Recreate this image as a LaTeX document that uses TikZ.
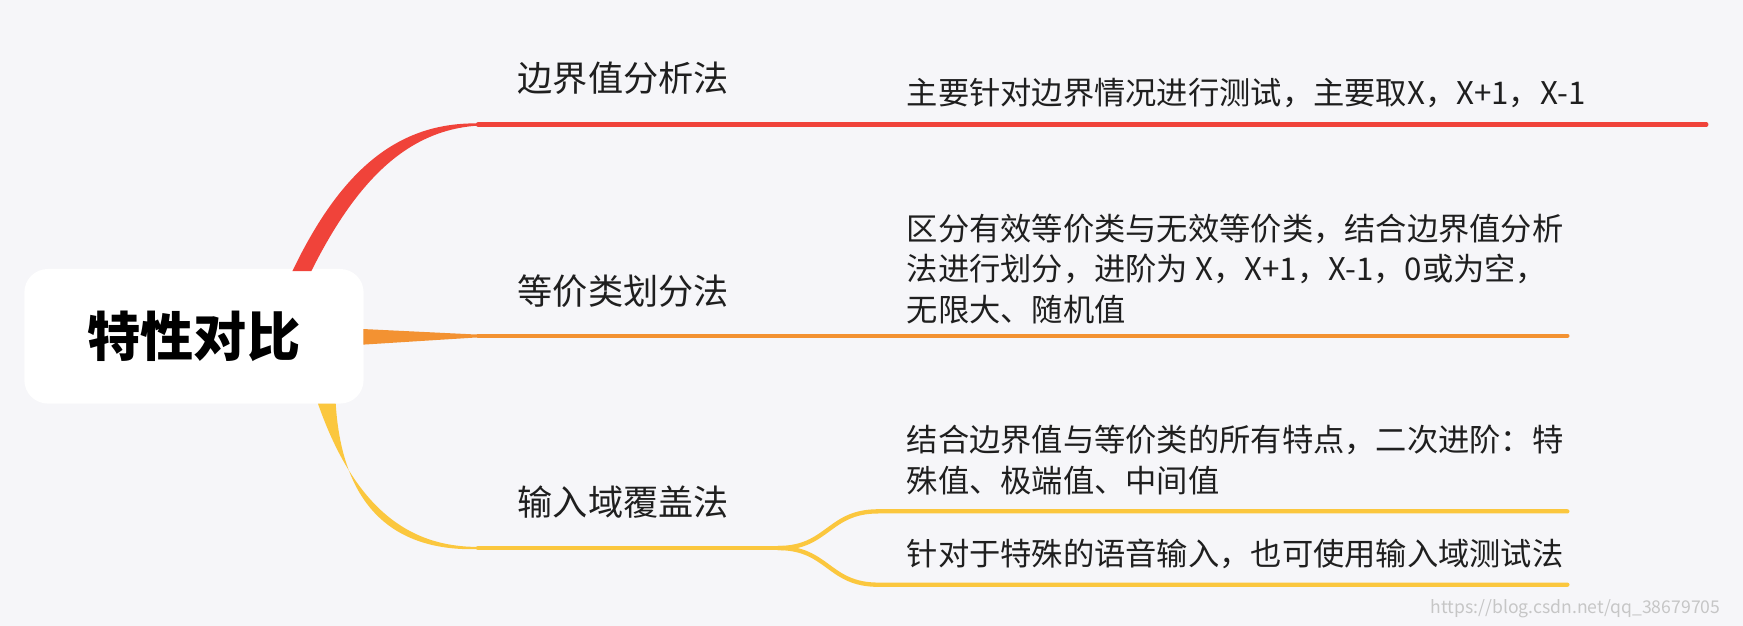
\documentclass[tikz,border=0pt]{standalone}
\usepackage{fontspec}
\setmainfont{Noto Sans CJK SC}
\usetikzlibrary{positioning}
\definecolor{bg}{HTML}{F6F6F9}
\definecolor{bred}{HTML}{F0433A}
\definecolor{borange}{HTML}{F39232}
\definecolor{byellow}{HTML}{FBC73E}
\definecolor{txt}{HTML}{1F1F1F}
\tikzset{
  topic/.style={anchor=west, font=\fontsize{9}{11}\selectfont, text=txt, inner sep=0pt},
  leaf/.style={anchor=north west, align=left, font=\fontsize{8}{10.3}\selectfont, text=txt, inner sep=0pt},
  branch/.style={line width=1.1pt, line cap=round}
}
\begin{document}
\begin{tikzpicture}[x=0.01cm, y=-0.01cm]
    \useasboundingbox (0,0) rectangle (1568,563);
    \fill[bg] (0,0) rectangle (1568,563);

    % Root
    \node[fill=white, rounded corners=6pt, minimum width=3.05cm, minimum height=1.21cm,
      font=\fontsize{13.6}{16}\selectfont\bfseries] (root) at (174.5,302.5) {特性对比};

    % Red branch
    \fill[bred] (263,244) .. controls (308,150) and (360,110) .. (430,111)
      -- (430,113) .. controls (368,117) and (322,160) .. (280,244) -- cycle;
    \coordinate (r0) at (430,112);
    \coordinate (r1) at (1535,112);
    \draw[branch, bred] (r0) -- (r1);
    \node[topic] (bva) at (465,70) {边界值分析法};
    \node[leaf] (bvatxt) at (815,70) {主要针对边界情况进行测试，主要取X，X+1，X-1};

    % Orange branch
    \fill[borange] (327,296) -- (430,301) -- (430,303.5) -- (327,310) -- cycle;
    \coordinate (o0) at (430,302);
    \coordinate (o1) at (1410,302);
    \draw[branch, borange] (o0) -- (o1);
    \node[topic] (ecp) at (465,262) {等价类划分法};
    \node[leaf] (ecptxt) at (815,192) {区分有效等价类与无效等价类，结合边界值分析\\法进行划分，进阶为 X，X+1，X-1，0或为空，\\无限大、随机值};

    % Yellow branch
    \fill[byellow] (286,363) .. controls (320,460) and (370,492) .. (430,492)
      -- (430,494) .. controls (358,496) and (308,460) .. (302,363) -- cycle;
    \coordinate (y0) at (430,493);
    \coordinate (y1) at (700,493);
    \coordinate (ya) at (790,460);
    \coordinate (yb) at (790,526);
    \draw[branch, byellow] (y0) -- (y1);
    \draw[branch, byellow] (y1) .. controls (745,493) and (745,460) .. (ya) -- (1410,460);
    \draw[branch, byellow] (y1) .. controls (745,493) and (745,526) .. (yb) -- (1410,526);
    \node[topic] (idc) at (465,452) {输入域覆盖法};
    \node[leaf] (idctxt) at (815,382) {结合边界值与等价类的所有特点，二次进阶：特\\殊值、极端值、中间值};
    \node[leaf] (idctxt2) at (815,484) {针对于特殊的语音输入，也可使用输入域测试法};

    % Watermark
    \node[anchor=east, text=gray!45, font=\fontsize{4.5}{6}\selectfont] (wm) at (1560,548) {https://blog.csdn.net/qq\_38679705};
\end{tikzpicture}
\end{document}
